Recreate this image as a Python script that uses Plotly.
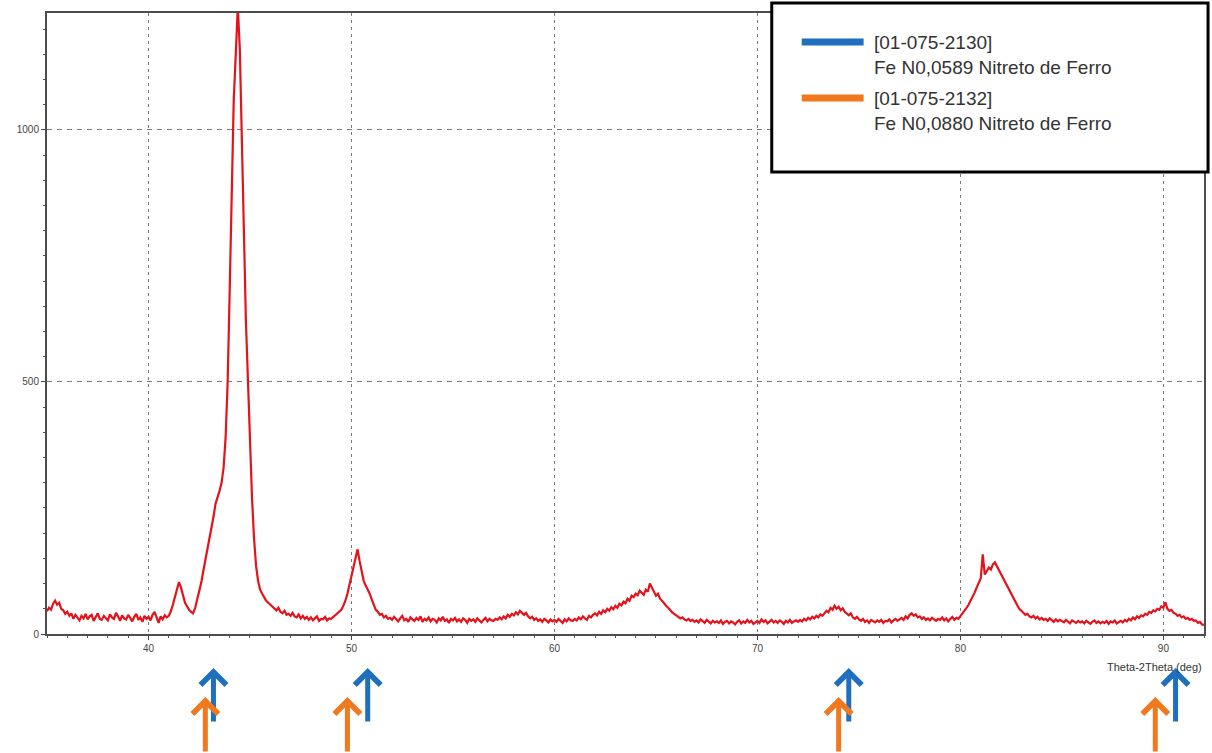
import numpy as np
import plotly.graph_objects as go

# XRD scan: 2-theta from 35.0 deg in 0.1 deg steps, intensity in counts
scan_start = 35.0
scan_step = 0.1
intensity = [
    45, 52, 48, 60, 66, 58, 62, 50, 47, 40,            # 35
    44, 36, 41, 30, 38, 33, 27, 36, 31, 40,            # 36
    29, 35, 38, 26, 33, 41, 30, 28, 36, 32,            # 37
    27, 39, 33, 30, 42, 35, 26, 37, 31, 29,            # 38
    38, 32, 25, 34, 40, 28, 33, 24, 36, 30,            # 39
    34, 27, 38, 44, 31, 22, 35, 29, 37, 33,            # 40
    36, 45, 58, 72, 88, 103, 92, 74, 62, 55,           # 41
    48, 44, 41, 52, 68, 84, 102, 125, 145, 168,        # 42
    186, 205, 232, 258, 270, 284, 300, 330, 390, 500,  # 43
    680, 900, 1060, 1150, 1245, 1160, 1000, 800, 620, 500,  # 44
    380, 270, 190, 135, 105, 88, 80, 72, 66, 62,       # 45
    58, 54, 50, 47, 52, 44, 41, 46, 38, 40,            # 46
    36, 42, 35, 33, 39, 31, 36, 30, 34, 28,            # 47
    33, 27, 31, 35, 26, 30, 29, 34, 27, 31,            # 48
    30, 34, 36, 41, 44, 48, 56, 66, 80, 98,            # 49
    112, 130, 148, 168, 145, 122, 106, 96, 88, 80,     # 50
    68, 56, 48, 44, 38, 40, 33, 36, 30, 32,            # 51
    28, 34, 29, 25, 31, 36, 27, 30, 24, 33,            # 52
    29, 26, 32, 28, 35, 24, 30, 27, 33, 25,            # 53
    30, 28, 23, 31, 27, 34, 26, 29, 22, 30,            # 54
    27, 32, 25, 29, 24, 31, 28, 22, 30, 26,            # 55
    29, 24, 31, 27, 23, 28, 32, 25, 30, 27,            # 56
    26, 30, 28, 33, 29, 35, 31, 38, 34, 40,            # 57
    37, 43, 39, 46, 41, 38, 42, 35, 31, 34,            # 58
    28, 31, 26, 29, 24, 30, 27, 23, 29, 25,            # 59
    28, 24, 30, 26, 22, 29, 25, 31, 27, 26,            # 60
    30, 27, 33, 29, 35, 31, 28, 36, 33, 38,            # 61
    41, 37, 44, 40, 47, 43, 50, 46, 53, 49,            # 62
    56, 52, 60, 57, 64, 61, 70, 66, 76, 73,            # 63
    80, 77, 86, 82, 78, 88, 84, 100, 92, 86,           # 64
    76, 80, 70, 66, 60, 56, 52, 47, 43, 40,            # 65
    36, 34, 31, 33, 29, 27, 30, 26, 28, 24,            # 66
    27, 23, 29, 25, 22, 28, 24, 21, 26, 23,            # 67
    25, 22, 27, 20, 24, 26, 21, 25, 23, 19,            # 68
    24, 27, 21, 25, 22, 28, 23, 26, 20, 24,            # 69
    26, 22, 29, 24, 27, 21, 25, 28, 23, 26,            # 70
    22, 27, 24, 20, 26, 23, 28, 22, 25, 27,            # 71
    24, 28, 25, 30, 27, 32, 29, 34, 31, 36,            # 72
    33, 39, 36, 42, 46, 43, 52, 48, 56, 50,            # 73
    54, 47, 51, 44, 40, 37, 41, 33, 30, 34,            # 74
    29, 26, 30, 24, 27, 22, 28, 25, 23, 27,            # 75
    24, 28, 22, 26, 25, 29, 23, 27, 30, 26,            # 76
    29, 32, 28, 35, 31, 38, 41, 36, 39, 33,            # 77
    35, 30, 33, 28, 31, 27, 32, 29, 26, 30,            # 78
    28, 33, 27, 31, 25, 30, 34, 28, 32, 30,            # 79
    35, 40, 45, 52, 58, 66, 72, 82, 92, 102,           # 80
    110, 158, 118, 125, 132, 128, 138, 142, 134, 128,  # 81
    121, 112, 104, 96, 88, 80, 72, 64, 57, 50,         # 82
    45, 42, 38, 40, 35, 33, 36, 31, 34, 29,            # 83
    32, 28, 30, 26, 31, 27, 24, 29, 25, 28,            # 84
    26, 23, 28, 24, 21, 27, 25, 22, 26, 23,            # 85
    25, 21, 26, 23, 20, 24, 27, 22, 25, 21,            # 86
    24, 22, 26, 20, 25, 23, 27, 21, 24, 26,            # 87
    23, 28, 25, 30, 27, 33, 29, 35, 32, 37,            # 88
    35, 40, 38, 44, 42, 47, 45, 50, 48, 55,            # 89
    52, 63, 50, 46, 48, 42, 40, 36, 38, 33,            # 90
    35, 30, 32, 28, 30, 26, 27, 22, 24, 19,            # 91
    18,                                                # 92
]
two_theta = np.round(scan_start + scan_step * np.arange(len(intensity)), 1)

# Reference pattern line positions (2-theta, deg)
ref_codes = ["[01-075-2130]", "[01-075-2132]"]
ref_names = ["Fe N0,0589 Nitreto de Ferro", "Fe N0,0880 Nitreto de Ferro"]
ref_colors = ["#1f6fbf", "#f0781e"]
ref_2130_lines = [43.2, 50.8, 74.5, 90.6]
ref_2132_lines = [42.8, 49.8, 74.0, 89.6]

x_range = [35, 92]
y_range = [0, 1232]
x_ticks = [40, 50, 60, 70, 80, 90]
y_ticks = [0, 500, 1000]

FONT = "Liberation Sans, Arial, sans-serif"

fig = go.Figure()
fig.add_trace(go.Scatter(
    x=two_theta, y=intensity, mode="lines",
    line=dict(color="#e3121b", width=2.2),
    showlegend=False, hoverinfo="x+y",
))

# Marker arrows under the axis, one row per reference card
arrow_rows = [
    (ref_2130_lines, ref_colors[0], -0.0548, 55),
    (ref_2132_lines, ref_colors[1], -0.1014, 64),
]
for positions, color, head_y, tail in arrow_rows:
    for pos in positions:
        fig.add_annotation(
            x=pos, xref="x", y=head_y, yref="paper",
            ax=0, ay=tail, axref="pixel", ayref="pixel",
            text="", showarrow=True, arrowhead=4, arrowsize=1.0,
            arrowwidth=5, arrowcolor=color, standoff=0,
        )

# Key box in the upper right
fig.add_shape(type="rect", xref="paper", yref="paper",
              x0=0.6264, x1=1.0035, y0=0.744, y1=1.016,
              line=dict(color="black", width=3), fillcolor="white",
              layer="above")
key_rows = [0.9533, 0.8631]
for code, name, color, ky in zip(ref_codes, ref_names, ref_colors, key_rows):
    fig.add_shape(type="line", xref="paper", yref="paper",
                  x0=0.6523, x1=0.7058, y0=ky, y1=ky,
                  line=dict(color=color, width=7), layer="above")
    fig.add_annotation(x=0.7127, y=ky, xref="paper", yref="paper",
                       xanchor="left", yanchor="middle", showarrow=False,
                       text=code, font=dict(family=FONT, size=19, color="#333"))
    fig.add_annotation(x=0.7127, y=ky - 0.0405, xref="paper", yref="paper",
                       xanchor="left", yanchor="middle", showarrow=False,
                       text=name, font=dict(family=FONT, size=19, color="#333"))

# Axis title at the right end of the x axis
fig.add_annotation(x=1.0, y=-0.053, xref="paper", yref="paper",
                   xanchor="right", yanchor="middle", showarrow=False,
                   text="Theta-2Theta (deg)",
                   font=dict(family=FONT, size=11, color="#333"))

axis_common = dict(
    showline=True, linecolor="#4d4d4d", linewidth=2, mirror=True,
    showgrid=True, gridcolor="#7a7a7a", gridwidth=1,
    ticks="outside", ticklen=4, tickcolor="#444", tickwidth=1,
    tickfont=dict(family=FONT, size=10, color="#444"),
    zeroline=False,
)
fig.update_xaxes(
    range=x_range, tickvals=x_ticks, griddash="3px,4px",
    minor=dict(dtick=1, tick0=0, ticks="outside", ticklen=2,
               tickcolor="#555", showgrid=False),
    **axis_common,
)
fig.update_yaxes(
    range=y_range, tickvals=y_ticks, griddash="5px,5px",
    minor=dict(dtick=50, tick0=0, ticks="outside", ticklen=2,
               tickcolor="#555", showgrid=False),
    **axis_common,
)

fig.update_layout(
    width=1212, height=753, autosize=False,
    margin=dict(l=47, r=6, t=13, b=119, pad=0),
    paper_bgcolor="white", plot_bgcolor="white",
    font=dict(family=FONT, size=10, color="#333"),
    showlegend=False,
)

fig.write_html("out.html")
